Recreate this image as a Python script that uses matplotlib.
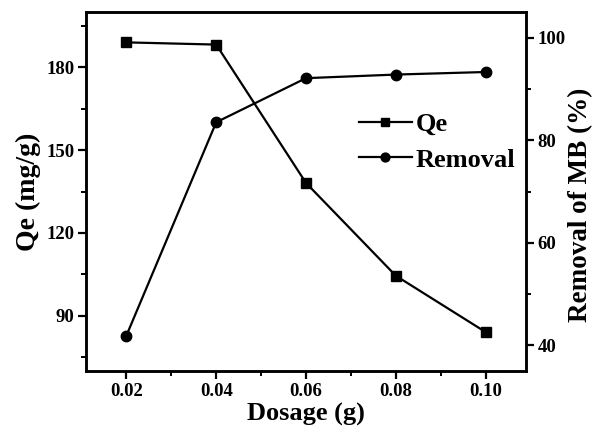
import matplotlib
matplotlib.use("Agg")
import matplotlib.pyplot as plt
from matplotlib.ticker import MultipleLocator

plt.rcParams['font.family'] = ['Liberation Serif', 'DejaVu Serif']
plt.rcParams['font.weight'] = 'bold'

dosage = [0.02, 0.04, 0.06, 0.08, 0.10]
qe = [189.0, 188.2, 138.1, 104.5, 84.1]
removal = [41.9, 83.5, 92.1, 92.8, 93.3]
xticks = [0.02, 0.04, 0.06, 0.08, 0.10]
xticklabels = ["0.02", "0.04", "0.06", "0.08", "0.10"]

fig = plt.figure(figsize=(6.04, 4.34), dpi=100)
ax = fig.add_axes([86/604, 63/434, 440/604, 359/434])
ax2 = ax.twinx()

l1, = ax.plot(dosage, qe, color='black', lw=1.6, marker='s', ms=6.5, label='Qe')
l2, = ax2.plot(dosage, removal, color='black', lw=1.6, marker='o', ms=7.5, label='Removal')

ax.set_xlim(0.011, 0.109)
ax.set_ylim(70, 200)
ax2.set_ylim(35, 105)

ax.set_xticks(xticks)
ax.set_xticklabels(xticklabels)
ax.xaxis.set_minor_locator(MultipleLocator(0.01))
ax.yaxis.set_major_locator(MultipleLocator(30))
ax.yaxis.set_minor_locator(MultipleLocator(15))
ax2.yaxis.set_major_locator(MultipleLocator(20))
ax2.yaxis.set_minor_locator(MultipleLocator(10))

for a in (ax, ax2):
    for s in a.spines.values():
        s.set_linewidth(1.8)
    a.tick_params(which='major', direction='out', length=6, width=1.6, labelsize=13.5, pad=2.5)
    a.tick_params(which='minor', direction='out', length=3.5, width=1.4)
    for lab in a.get_xticklabels() + a.get_yticklabels():
        lab.set_fontweight('bold')

ax.set_xlabel('Dosage (g)', fontsize=19, fontweight='bold', labelpad=2)
ax.set_ylabel('Qe (mg/g)', fontsize=20, fontweight='bold', labelpad=4)
ax2.set_ylabel('Removal of MB (%)', fontsize=19.5, fontweight='bold')
ax2.yaxis.set_label_coords(1.095, 0.462)

leg = fig.legend([l1, l2], ['Qe', 'Removal'], loc='upper left',
                 bbox_to_anchor=(335/604, 1 - 89/434), frameon=False,
                 prop={'family': 'Liberation Serif', 'weight': 'bold', 'size': 19},
                 handlelength=2.0, handletextpad=0.15, labelspacing=0.45,
                 markerscale=0.85)

fig.savefig('out.png', dpi=100)
